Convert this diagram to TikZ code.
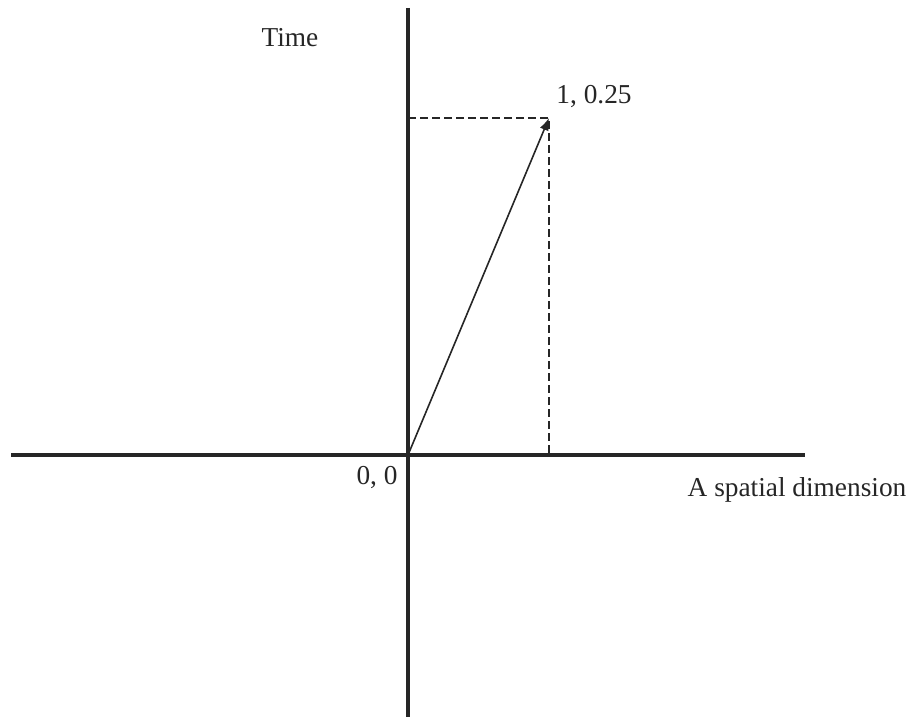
\documentclass[tikz,border=0pt]{standalone}
\usepackage{fontspec}
\setmainfont{Liberation Serif}
\usetikzlibrary{arrows.meta, positioning}

\begin{document}
\begin{tikzpicture}[
        x = 0.75pt, y = -0.75pt,
        >= {Latex[scale = 1.1]},
        axis/.style = {draw = black!85, line width = 2.6pt},
        vec/.style = {draw = black!85, line width = 1.2pt, ->},
        guide/.style = {draw = black!85, line width = 1.2pt, dashed, dash pattern = on 6pt off 3pt},
        label/.style = {font = \fontsize{20.5}{24}\selectfont, text = black!85}
    ]

    \useasboundingbox (0, 0) rectangle (911, 717);

    \coordinate (origin) at (408, 455);
    \coordinate (tip) at (549, 118);
    \coordinate (xl) at (11, 455);
    \coordinate (xr) at (805, 455);
    \coordinate (yt) at (408, 8);
    \coordinate (yb) at (408, 717);

    \path[axis] (xl) -- (xr);
    \path[axis] (yt) -- (yb);

    \path[guide] (origin |- tip) -- (tip) -- (tip |- origin);
    \path[vec] (origin) -- (tip);

    \node[label] (time) at (290, 38) {Time};
    \node[label] (tiplabel) at (594, 97) {1, 0.25};
    \node[label] (originlabel) at (377, 478) {0, 0};
    \node[label] (space) at (797, 490) {A spatial dimension};
\end{tikzpicture}
\end{document}
